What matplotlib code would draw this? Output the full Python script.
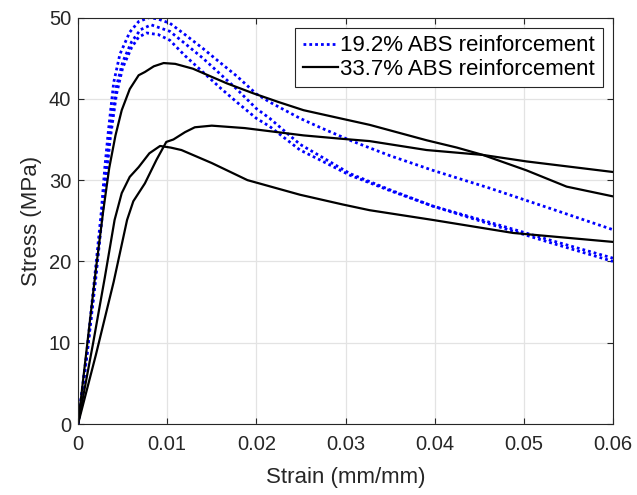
import matplotlib
matplotlib.use("Agg")
import matplotlib.pyplot as plt

plt.rcParams['font.family'] = ['Liberation Sans', 'DejaVu Sans']

# ---- data (strain in mm/mm, stress in MPa) ----
blue1_strain = [0, 0.0010, 0.0020, 0.0026, 0.0030, 0.0034, 0.0040, 0.0047, 0.0058, 0.0068, 0.0080,
                0.0090, 0.0103, 0.0120, 0.0140, 0.0160, 0.0178, 0.0200, 0.0215, 0.0249, 0.0271,
                0.0305, 0.0350, 0.0398, 0.0462, 0.0530, 0.0600]
blue1_stress = [0, 9.0, 19.5, 26.0, 31.5, 36.0, 42.0, 45.5, 48.2, 49.5, 50.0,
                49.8, 49.3, 47.9, 46.2, 44.4, 42.8, 40.6, 39.6, 37.6, 36.5,
                34.9, 33.0, 31.2, 29.0, 26.5, 23.9]

blue2_strain = [0, 0.0010, 0.0020, 0.0028, 0.0036, 0.0043, 0.0050, 0.0060, 0.0070, 0.0082,
                0.0103, 0.0120, 0.0140, 0.0160, 0.0178, 0.0200, 0.0215, 0.0249, 0.0271,
                0.0305, 0.0350, 0.0398, 0.0462, 0.0530, 0.0600]
blue2_stress = [0, 8.5, 18.5, 27.0, 36.0, 41.5, 44.5, 47.0, 48.5, 49.1,
                48.3, 46.8, 45.0, 43.0, 41.2, 38.8, 37.6, 34.4, 33.0,
                30.8, 28.8, 26.8, 24.6, 22.3, 20.0]

blue3_strain = [0, 0.0010, 0.0020, 0.0028, 0.0036, 0.0043, 0.0050, 0.0060, 0.0068, 0.0077,
                0.0090, 0.0103, 0.0120, 0.0140, 0.0160, 0.0178, 0.0200, 0.0215, 0.0249, 0.0271,
                0.0305, 0.0350, 0.0398, 0.0462, 0.0530, 0.0600]
blue3_stress = [0, 8.5, 18.0, 26.5, 35.0, 40.5, 43.8, 46.3, 47.6, 48.1,
                47.9, 47.2, 45.3, 43.3, 41.3, 39.6, 37.6, 36.6, 33.7, 32.5,
                30.6, 28.7, 26.8, 24.8, 22.6, 20.4]

blackA_strain = [0, 0.0010, 0.0020, 0.0028, 0.0035, 0.0042, 0.0049, 0.0058, 0.0068, 0.0075,
                 0.0085, 0.0096, 0.0109, 0.0129, 0.0150, 0.0167, 0.0196, 0.0225, 0.0253,
                 0.0294, 0.0327, 0.0391, 0.0425, 0.0454, 0.0503, 0.0548, 0.0600]
blackA_stress = [0, 9.5, 19.0, 26.0, 31.5, 35.5, 38.6, 41.2, 42.9, 43.3,
                 44.0, 44.4, 44.3, 43.7, 42.7, 41.9, 40.7, 39.6, 38.6,
                 37.6, 36.8, 34.9, 34.0, 33.1, 31.2, 29.2, 28.0]

blackB_strain = [0, 0.0020, 0.0040, 0.0055, 0.0062, 0.0075, 0.0088, 0.0099, 0.0107, 0.0120,
                 0.0131, 0.0150, 0.0187, 0.0253, 0.0294, 0.0327, 0.0391, 0.0454, 0.0503, 0.0600]
blackB_stress = [0, 8.5, 17.5, 25.1, 27.4, 29.6, 32.5, 34.7, 35.0, 35.9,
                 36.5, 36.7, 36.4, 35.5, 35.1, 34.8, 33.7, 33.1, 32.3, 31.0]

blackC_strain = [0, 0.0017, 0.0030, 0.0041, 0.0049, 0.0058, 0.0068, 0.0080, 0.0092, 0.0104,
                 0.0116, 0.0150, 0.0190, 0.0249, 0.0297, 0.0327, 0.0398, 0.0488, 0.0600]
blackC_stress = [0, 10.0, 18.0, 25.1, 28.4, 30.4, 31.6, 33.3, 34.2, 34.0,
                 33.7, 32.1, 30.0, 28.2, 27.0, 26.3, 25.1, 23.5, 22.4]

legend_labels = ['19.2% ABS reinforcement', '33.7% ABS reinforcement']
x_ticks = [0, 0.01, 0.02, 0.03, 0.04, 0.05, 0.06]
x_ticklabels = ['0', '0.01', '0.02', '0.03', '0.04', '0.05', '0.06']
y_ticks = [0, 10, 20, 30, 40, 50]

# ---- figure ----
fig = plt.figure(figsize=(6.37, 4.95), dpi=100)
ax = fig.add_axes([0.1225, 0.1434, 0.8398, 0.8212])

blue_kw = dict(color='#0000ff', linewidth=2.0, linestyle=(0, (1.0, 1.1)))
black_kw = dict(color='black', linewidth=1.6)

hb, = ax.plot(blue1_strain, blue1_stress, **blue_kw)
ax.plot(blue2_strain, blue2_stress, **blue_kw)
ax.plot(blue3_strain, blue3_stress, **blue_kw)
hk, = ax.plot(blackA_strain, blackA_stress, **black_kw)
ax.plot(blackB_strain, blackB_stress, **black_kw)
ax.plot(blackC_strain, blackC_stress, **black_kw)

ax.set_xlim(0, 0.06)
ax.set_ylim(0, 50)
ax.set_xticks(x_ticks)
ax.set_xticklabels(x_ticklabels)
ax.set_yticks(y_ticks)

ax.grid(True, color='#e3e3e3', linewidth=0.9)
ax.set_axisbelow(True)
for s in ax.spines.values():
    s.set_color('#262626')
    s.set_linewidth(0.8)
ax.tick_params(direction='in', top=True, right=True, length=4, width=0.8,
               colors='#262626', labelsize=14.5)
ax.tick_params(axis='x', pad=8)
ax.tick_params(axis='y', pad=5)

ax.set_xlabel('Strain (mm/mm)', fontsize=16, color='#262626', labelpad=9)
ax.set_ylabel('Stress (MPa)', fontsize=16, color='#262626', labelpad=5)

leg = ax.legend([hb, hk], legend_labels, loc='upper right', fontsize=16,
                frameon=True, fancybox=False, framealpha=1, edgecolor='#262626',
                handlelength=1.6, handletextpad=0.1, borderpad=0.35,
                labelspacing=0.1, borderaxespad=0.45)
leg.get_frame().set_linewidth(0.8)

fig.savefig('out.png', dpi=100)
